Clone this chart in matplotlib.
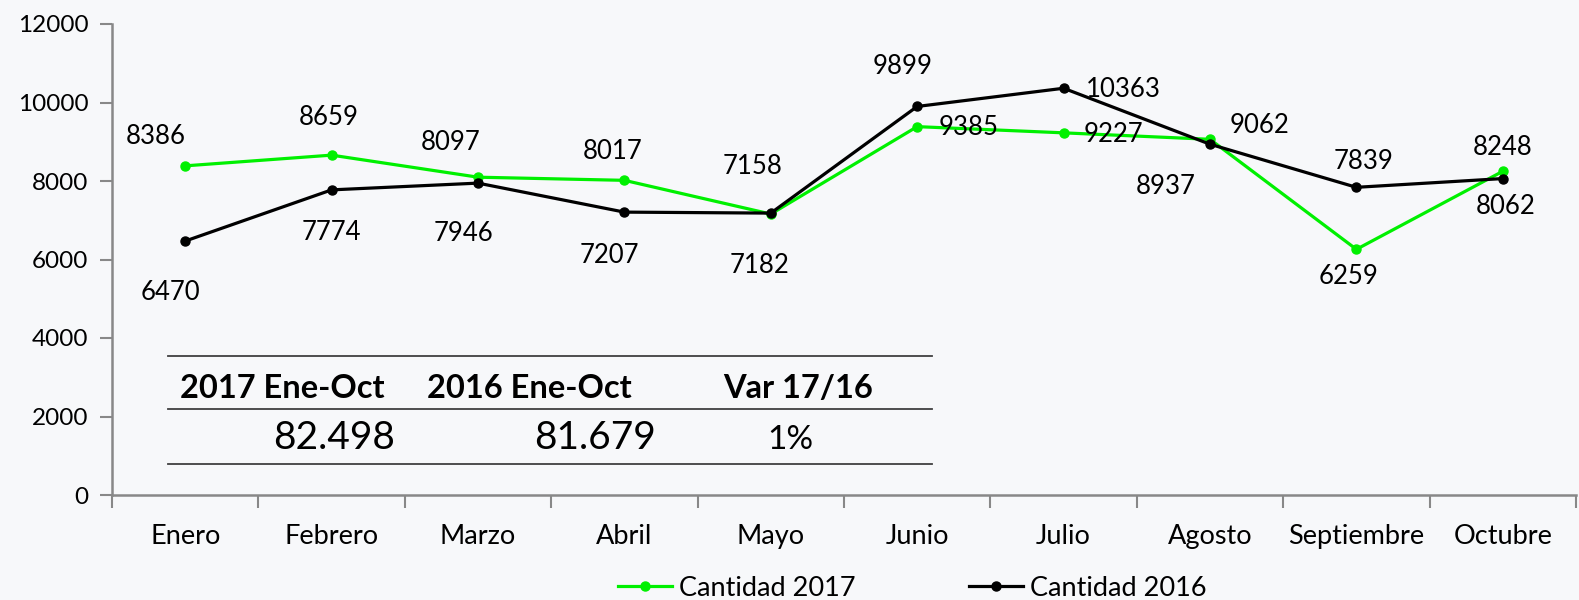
import matplotlib.pyplot as plt
from matplotlib.lines import Line2D

plt.rcParams['font.family'] = ['Lato', 'DejaVu Sans']

# data
meses = ["Enero", "Febrero", "Marzo", "Abril", "Mayo", "Junio", "Julio",
         "Agosto", "Septiembre", "Octubre"]
cantidad_2017 = [8386, 8659, 8097, 8017, 7158, 9385, 9227, 9062, 6259, 8248]
cantidad_2016 = [6470, 7774, 7946, 7207, 7182, 9899, 10363, 8937, 7839, 8062]

tabla_cab = ["2017 Ene-Oct", "2016 Ene-Oct", "Var 17/16"]
tabla_val = ["82.498", "81.679", "1%"]

# label offsets in pixels (dx, dy up), horizontal alignment
off_2017 = [(-29, 29, 'center'), (-3, 38, 'center'), (-27, 35, 'center'),
            (-12, 29, 'center'), (-18, 48, 'center'), (21, -1, 'left'),
            (20, -2, 'left'), (20, 14, 'left'), (-8, -27, 'center'),
            (0, 24, 'center')]
off_2016 = [(-15, -51, 'center'), (0, -43, 'center'), (-15, -50, 'center'),
            (-15, -43, 'center'), (-11, -52, 'center'), (-15, 40, 'center'),
            (22, -1, 'left'), (-44, -42, 'center'), (7, 26, 'center'),
            (3, -28, 'center')]

bg = '#F7F8FA'
verde = '#00F000'
W, H = 1579, 600

fig = plt.figure(figsize=(W / 100, H / 100), dpi=100, facecolor=bg)
ax = fig.add_axes([112 / W, 1 - 495 / H, (1576 - 112) / W, (495 - 24) / H])
ax.set_facecolor(bg)

x = range(len(meses))
ax.plot(x, cantidad_2017, color=verde, lw=2.3, marker='o', ms=6.5, zorder=3)
ax.plot(x, cantidad_2016, color='black', lw=2.3, marker='o', ms=6.5, zorder=4)

for i in x:
    dx, dy, ha = off_2017[i]
    ax.annotate(str(cantidad_2017[i]), (i, cantidad_2017[i]), xytext=(dx, dy),
                textcoords='offset pixels', ha=ha, va='center', fontsize=18.5)
    dx, dy, ha = off_2016[i]
    ax.annotate(str(cantidad_2016[i]), (i, cantidad_2016[i]), xytext=(dx, dy),
                textcoords='offset pixels', ha=ha, va='center', fontsize=18.5)

ax.set_xlim(-0.5, len(meses) - 0.5)
ax.set_ylim(0, 12000)
ax.set_yticks(range(0, 12001, 2000))
ax.set_xticks(list(x))
ax.set_xticklabels(meses, fontsize=19.5)
ax.set_xticks([i - 0.5 for i in range(len(meses) + 1)], minor=True)
ax.tick_params(axis='x', which='major', length=0, pad=21)
ax.tick_params(axis='x', which='minor', length=9, width=1.5, color='#888888')
ax.tick_params(axis='y', length=9, width=1.5, color='#888888', labelsize=17.5, pad=8)
for s in ['top', 'right']:
    ax.spines[s].set_visible(False)
for s in ['left', 'bottom']:
    ax.spines[s].set_color('#888888')
    ax.spines[s].set_linewidth(1.8)

# summary table
def px(xp, yp):
    return xp / W, 1 - yp / H

for yl in [356, 409, 464]:
    fig.add_artist(Line2D([168 / W, 932 / W], [1 - yl / H] * 2, color='#404040', lw=1.3))
for cx, t in zip([282, 529, 798], tabla_cab):
    fig.text(*px(cx, 388), t, ha='center', va='center', fontsize=23.5, fontweight='bold')
fig.text(*px(395, 438), tabla_val[0], ha='right', va='center', fontsize=28)
fig.text(*px(656, 438), tabla_val[1], ha='right', va='center', fontsize=28)
fig.text(*px(790, 440), tabla_val[2], ha='center', va='center', fontsize=24)

# legend
h1 = Line2D([], [], color=verde, lw=2.3, marker='o', ms=6.5)
h2 = Line2D([], [], color='black', lw=2.3, marker='o', ms=6.5)
fig.legend([h1, h2], ["Cantidad 2017", "Cantidad 2016"], loc='center',
           bbox_to_anchor=(912 / W, 1 - 588 / H), ncol=2, frameon=False,
           fontsize=19.5, handlelength=2.0, handletextpad=0.25, columnspacing=4.2)

fig.savefig('out.png', dpi=100, facecolor=bg)
